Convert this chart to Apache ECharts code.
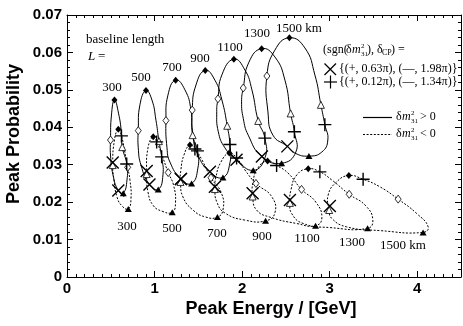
<!DOCTYPE html>
<html>
<head>
<meta charset="utf-8">
<script src="https://cdn.jsdelivr.net/npm/echarts@6/dist/echarts.min.js"></script>
<style>
  html, body { margin: 0; padding: 0; background: #fff; }
  #chart { width: 463px; height: 326px; }
</style>
</head>
<body>
<div id="chart"></div>
<script>
// baseline lengths (km), one solid loop (dm31^2 > 0) and one dotted loop (< 0) each
const baselines = [300, 500, 700, 900, 1100, 1300, 1500];

// ---- dm31^2 > 0 : [peak energy GeV, peak probability]
const posFilledDiamond = [[0.542,0.0473],[0.902,0.0498],[1.241,0.0526],[1.579,0.0552],[1.906,0.0582],[2.223,0.0610],[2.540,0.0639]];
const posOpenDiamond   = [[0.497,0.0366],[0.814,0.0391],[1.130,0.0418],[1.430,0.0446],[1.724,0.0476],[2.013,0.0505],[2.283,0.0537]];
const posOpenTriangle  = [[0.631,0.0347],[1.050,0.0363],[1.435,0.0379],[1.830,0.0404],[2.184,0.0417],[2.554,0.0437],[2.900,0.0460]];
const posFilledTriangle= [[0.643,0.0224],[1.042,0.0234],[1.423,0.0250],[1.781,0.0266],[2.127,0.0285],[2.451,0.0304],[2.763,0.0323]];
const posCross         = [[0.586,0.0231],[0.942,0.0247],[1.301,0.0262],[1.632,0.0281],[1.936,0.0313],[2.226,0.0322],[2.517,0.0349]];
const posPlus          = [[0.682,0.0302],[1.081,0.0321],[1.490,0.0337],[1.861,0.0354],[2.260,0.0371],[2.597,0.0388],[2.945,0.0407]];

// ---- dm31^2 < 0
const negFilledDiamond = [[0.586,0.0395],[0.985,0.0375],[1.404,0.0353],[1.853,0.0331],[2.291,0.0310],[2.755,0.0289],[3.219,0.0271]];
const negOpenDiamond   = [[0.693,0.0293],[1.156,0.0279],[1.644,0.0265],[2.158,0.0250],[2.679,0.0234],[3.223,0.0221],[3.782,0.0208]];
const negOpenTriangle  = [[0.522,0.0299],[0.910,0.0275],[1.296,0.0254],[1.689,0.0235],[2.120,0.0215],[2.546,0.0198],[2.994,0.0179]];
const negFilledTriangle= [[0.700,0.0182],[1.202,0.0173],[1.718,0.0160],[2.268,0.0150],[2.839,0.0137],[3.433,0.0130],[4.067,0.0119]];
const negCross         = [[0.522,0.0306],[0.910,0.0283],[1.301,0.0262],[1.689,0.0241],[2.120,0.0224],[2.546,0.0206],[3.002,0.0190]];
const negPlus          = [[0.622,0.0377],[1.024,0.0361],[1.461,0.0342],[1.937,0.0318],[2.394,0.0298],[2.888,0.0281],[3.382,0.0261]];

// loop outlines (closed curves)
const posLoops = [
  [[0.542,0.0473],[0.588,0.0438],[0.622,0.0385],[0.631,0.0347],[0.682,0.0302],[0.685,0.0259],[0.643,0.0224],[0.586,0.0231],[0.525,0.0273],[0.497,0.0326],[0.497,0.0366],[0.508,0.0433]],
  [[0.902,0.0498],[0.970,0.0473],[1.016,0.0419],[1.050,0.0363],[1.081,0.0321],[1.096,0.0273],[1.042,0.0234],[0.942,0.0247],[0.845,0.0299],[0.814,0.0345],[0.814,0.0391],[0.833,0.0460]],
  [[1.241,0.0526],[1.347,0.0500],[1.416,0.0446],[1.435,0.0379],[1.490,0.0337],[1.495,0.0291],[1.423,0.0250],[1.301,0.0262],[1.176,0.0307],[1.142,0.0345],[1.130,0.0418],[1.153,0.0486]],
  [[1.579,0.0552],[1.689,0.0526],[1.769,0.0473],[1.830,0.0404],[1.861,0.0354],[1.861,0.0305],[1.781,0.0266],[1.632,0.0281],[1.495,0.0326],[1.438,0.0379],[1.430,0.0446],[1.473,0.0513]],
  [[1.906,0.0582],[2.032,0.0553],[2.112,0.0500],[2.184,0.0417],[2.260,0.0371],[2.260,0.0318],[2.127,0.0285],[1.936,0.0313],[1.804,0.0345],[1.728,0.0388],[1.710,0.0442],[1.724,0.0476],[1.769,0.0540]],
  [[2.223,0.0610],[2.374,0.0588],[2.489,0.0526],[2.554,0.0437],[2.597,0.0388],[2.614,0.0334],[2.451,0.0304],[2.226,0.0322],[2.070,0.0379],[2.013,0.0424],[1.994,0.0468],[2.013,0.0505],[2.078,0.0574]],
  [[2.540,0.0639],[2.717,0.0612],[2.831,0.0540],[2.900,0.0460],[2.945,0.0407],[2.979,0.0366],[2.911,0.0334],[2.763,0.0323],[2.603,0.0331],[2.517,0.0349],[2.352,0.0379],[2.295,0.0441],[2.283,0.0537],[2.374,0.0606]]
];
const negLoops = [
  [[0.522,0.0299],[0.537,0.0259],[0.571,0.0214],[0.628,0.0190],[0.700,0.0182],[0.731,0.0211],[0.719,0.0259],[0.693,0.0293],[0.656,0.0339],[0.622,0.0377],[0.586,0.0395],[0.542,0.0366]],
  [[0.910,0.0275],[0.925,0.0227],[0.982,0.0192],[1.084,0.0176],[1.202,0.0173],[1.239,0.0198],[1.216,0.0246],[1.156,0.0279],[1.084,0.0326],[1.024,0.0361],[0.985,0.0375],[0.925,0.0345]],
  [[1.296,0.0254],[1.324,0.0214],[1.438,0.0179],[1.587,0.0160],[1.718,0.0160],[1.781,0.0179],[1.764,0.0224],[1.644,0.0265],[1.541,0.0313],[1.461,0.0342],[1.404,0.0353],[1.336,0.0326],[1.301,0.0286]],
  [[1.689,0.0235],[1.712,0.0200],[1.804,0.0171],[2.032,0.0152],[2.268,0.0150],[2.374,0.0171],[2.340,0.0214],[2.158,0.0250],[2.032,0.0286],[1.937,0.0318],[1.853,0.0331],[1.758,0.0307],[1.701,0.0267]],
  [[2.120,0.0215],[2.165,0.0179],[2.317,0.0160],[2.622,0.0143],[2.839,0.0137],[2.911,0.0158],[2.842,0.0200],[2.679,0.0234],[2.523,0.0278],[2.394,0.0298],[2.291,0.0310],[2.180,0.0291],[2.123,0.0251]],
  [[2.546,0.0198],[2.565,0.0170],[2.697,0.0143],[3.002,0.0132],[3.433,0.0130],[3.493,0.0152],[3.413,0.0190],[3.223,0.0221],[3.025,0.0259],[2.888,0.0281],[2.755,0.0289],[2.626,0.0273],[2.557,0.0232]],
  [[2.994,0.0179],[3.022,0.0157],[3.193,0.0134],[3.573,0.0124],[4.067,0.0119],[4.125,0.0134],[3.992,0.0170],[3.782,0.0208],[3.573,0.0241],[3.382,0.0261],[3.219,0.0271],[3.079,0.0254],[2.983,0.0219]]
];

const xTicks = [0, 1, 2, 3, 4];

const serif = '"Liberation Serif", "DejaVu Serif", serif';
const sans = '"Liberation Sans", Arial, sans-serif';
const crossPath = 'path://M0,0L10,10M10,0L0,10';
const plusPath = 'path://M5,0L5,10M0,5L10,5';

var chart = echarts.init(document.getElementById('chart'), null, { renderer: 'canvas' });

function loopSeries(pts, dashed) {
  return {
    type: 'custom',
    coordinateSystem: 'cartesian2d',
    data: pts,
    silent: true,
    z: 2,
    renderItem: function (params, api) {
      if (params.dataIndex !== 0) return null;
      return {
        type: 'polygon',
        shape: { points: pts.map(function (p) { return api.coord(p); }), smooth: 0.5 },
        style: { fill: 'none', stroke: '#000', lineWidth: 1, lineDash: dashed ? [2, 1.6] : null }
      };
    }
  };
}

function markers(data, symbol, size, filled, z) {
  return {
    type: 'scatter', data: data, symbol: symbol, symbolSize: size, silent: true, z: z || 3,
    itemStyle: { color: filled ? '#000' : '#fff', borderColor: '#000', borderWidth: filled ? 0 : 0.8, opacity: 1 }
  };
}
function strokes(data, path, size) {
  return {
    type: 'scatter', data: data, symbol: path, symbolSize: size, silent: true, z: 4,
    itemStyle: { color: '#000', borderColor: '#000', borderWidth: 1.4, opacity: 1 }
  };
}

function xAx(pos, interval, len, main) {
  return {
    type: 'value', position: pos, min: 0, max: 4.5, interval: interval,
    axisLine: { show: main, onZero: false, lineStyle: { color: '#000', width: 1 } },
    axisTick: { show: true, inside: true, length: len, lineStyle: { color: '#000', width: 1 } },
    axisLabel: { show: main && pos === 'bottom', showMaxLabel: false, color: '#000', fontFamily: sans,
      fontWeight: 'bold', fontSize: 15, margin: 4,
      formatter: function (v) { return xTicks.indexOf(v) >= 0 ? String(v) : ''; } },
    splitLine: { show: false }
  };
}
function yAx(pos, interval, len, main) {
  return {
    type: 'value', position: pos, min: 0, max: 0.07, interval: interval,
    axisLine: { show: main, onZero: false, lineStyle: { color: '#000', width: 1 } },
    axisTick: { show: true, inside: true, length: len, lineStyle: { color: '#000', width: 1 } },
    axisLabel: { show: main && pos === 'left', color: '#000', fontFamily: sans, fontWeight: 'bold', fontSize: 15, margin: 5,
      formatter: function (v) { return v === 0 ? '0' : v.toFixed(2); } },
    splitLine: { show: false }
  };
}

function txt(x, y, s, o) {
  o = o || {};
  return { type: 'text', x: x, y: y, silent: true, z: 10, rotation: o.rot || 0,
    style: { text: s, fill: '#000', fontFamily: o.font || serif, fontSize: o.size || 13,
      fontStyle: o.italic ? 'italic' : 'normal', fontWeight: o.bold ? 'bold' : 'normal',
      align: o.align || 'center', verticalAlign: 'middle' } };
}
function dm31(x, y) {
  return [
    txt(x, y, 'δ', { align: 'left', size: 12 }),
    txt(x + 6, y, 'm', { align: 'left', size: 12, italic: true }),
    txt(x + 15, y - 4, '2', { align: 'left', size: 7 }),
    txt(x + 15, y + 4, '31', { align: 'left', size: 7 })
  ];
}
function seg(x1, y1, x2, y2, dash) {
  return { type: 'line', silent: true, z: 10, shape: { x1: x1, y1: y1, x2: x2, y2: y2 },
    style: { stroke: '#000', lineWidth: dash ? 1 : 1.2, lineDash: dash ? [2, 1.6] : null } };
}

const topLabelPos = [[112, 88], [141, 78], [172, 68], [200, 59], [230, 48], [257, 34], [299, 29]];
const bottomLabelPos = [[127, 227], [172, 229], [217, 234], [262, 237], [307, 239], [352, 243], [403, 246]];

var graphics = [];
baselines.forEach(function (b, i) {
  var s = i === baselines.length - 1 ? b + ' km' : String(b);
  graphics.push(txt(topLabelPos[i][0], topLabelPos[i][1], s));
  graphics.push(txt(bottomLabelPos[i][0], bottomLabelPos[i][1], s));
});
// axis titles
graphics.push(txt(271, 309, 'Peak Energy / [GeV]', { font: sans, bold: true, size: 18 }));
graphics.push(txt(14, 134, 'Peak Probability', { font: sans, bold: true, size: 18, rot: Math.PI / 2 }));
graphics.push(txt(86, 40, 'baseline length', { align: 'left' }));
graphics.push(txt(88, 57, 'L', { align: 'left', italic: true }));
graphics.push(txt(98, 57, '=', { align: 'left' }));
// legend block
graphics.push(txt(323, 50, '(sgn(', { align: 'left', size: 12 }));
graphics = graphics.concat(dm31(346, 50));
graphics.push(txt(367, 50, '), δ', { align: 'left', size: 12 }));
graphics.push(txt(382, 53, 'CP', { align: 'left', size: 8 }));
graphics.push(txt(391, 50, ') =', { align: 'left', size: 12 }));
graphics.push(seg(324.5, 63.5, 336, 75), seg(324.5, 75, 336, 63.5));
graphics.push(txt(339, 69, '{(+, 0.63π), (—, 1.98π)}', { align: 'left', size: 12 }));
graphics.push(seg(324, 82, 337, 82), seg(330.5, 75.5, 330.5, 88.5));
graphics.push(txt(339, 82, '{(+, 0.12π), (—, 1.34π)}', { align: 'left', size: 12 }));
graphics.push(seg(363, 117.5, 392, 117.5));
graphics = graphics.concat(dm31(396, 117));
graphics.push(txt(420, 117, '> 0', { align: 'left', size: 12 }));
graphics.push(seg(363, 134.5, 392, 134.5, true));
graphics = graphics.concat(dm31(396, 134));
graphics.push(txt(420, 134, '< 0', { align: 'left', size: 12 }));

var series = [];
posLoops.forEach(function (l) { series.push(loopSeries(l, false)); });
negLoops.forEach(function (l) { series.push(loopSeries(l, true)); });
series.push(
  markers(posOpenTriangle, 'triangle', [7, 7], false),
  markers(negOpenTriangle, 'triangle', [7, 7], false),
  markers(posFilledTriangle, 'triangle', [7, 6], true),
  markers(negFilledTriangle, 'triangle', [7, 6], true),
  markers(posOpenDiamond, 'diamond', [6, 8], false),
  markers(negOpenDiamond, 'diamond', [6, 8], false),
  markers(posFilledDiamond, 'diamond', [6, 7], true),
  markers(negFilledDiamond, 'diamond', [6, 7], true),
  strokes(posCross, crossPath, 12),
  strokes(negCross, crossPath, 12),
  strokes(posPlus, plusPath, 13),
  strokes(negPlus, plusPath, 13)
);

chart.setOption({
  animation: false,
  backgroundColor: '#fff',
  grid: { left: 67, right: 2, top: 15, bottom: 49, containLabel: false, outerBoundsMode: 'none' },
  xAxis: [xAx('bottom', 1, 6, true), xAx('bottom', 0.1, 3, false), xAx('top', 1, 6, true), xAx('top', 0.1, 3, false)],
  yAxis: [yAx('left', 0.01, 6, true), yAx('left', 0.002, 3, false), yAx('right', 0.01, 6, true), yAx('right', 0.002, 3, false)],
  series: series,
  graphic: graphics
});
</script>
</body>
</html>
